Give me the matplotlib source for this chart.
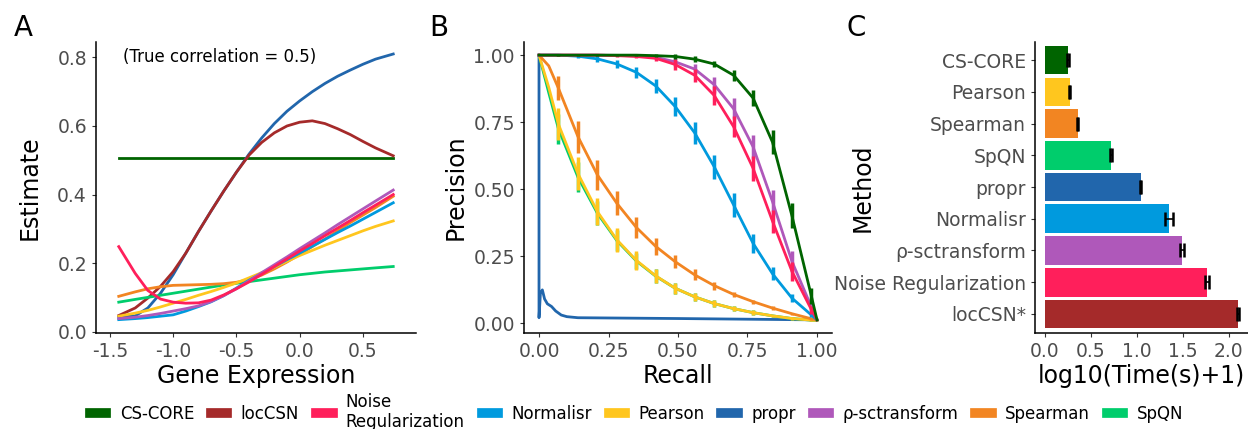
import numpy as np
import matplotlib
matplotlib.use("Agg")
import matplotlib.pyplot as plt
from matplotlib.lines import Line2D

plt.rcParams['font.family'] = ['DejaVu Sans']

methods = ["CS-CORE", "locCSN", "Noise Regularization", "Normalisr", "Pearson",
           "propr", "ρ-sctransform", "Spearman", "SpQN"]
colors = {"CS-CORE": "#006400", "locCSN": "#A52A2A", "Noise Regularization": "#FF1F5B",
          "Normalisr": "#009ADE", "Pearson": "#FFC61E", "propr": "#2166AC",
          "ρ-sctransform": "#AF58BA", "Spearman": "#F28522", "SpQN": "#00CD6C"}

# ---- panel A: estimate vs gene expression
gx = [-1.43, -1.3, -1.2, -1.1, -1.0, -0.9, -0.8, -0.7, -0.6, -0.5, -0.4, -0.3,
      -0.2, -0.1, 0.0, 0.1, 0.2, 0.3, 0.4, 0.5, 0.6, 0.74]
est = {
    "CS-CORE": [0.506] * 22,
    "propr": [0.042, 0.046, 0.069, 0.112, 0.166, 0.229, 0.292, 0.352, 0.41, 0.465, 0.518,
              0.565, 0.607, 0.643, 0.673, 0.70, 0.724, 0.745, 0.763, 0.78, 0.795, 0.81],
    "locCSN": [0.047, 0.069, 0.098, 0.132, 0.175, 0.229, 0.292, 0.352, 0.41, 0.465, 0.515,
               0.552, 0.58, 0.6, 0.611, 0.615, 0.607, 0.592, 0.575, 0.555, 0.536, 0.513],
    "Noise Regularization": [0.248, 0.17, 0.12, 0.095, 0.086, 0.083, 0.084, 0.092, 0.107,
                             0.125, 0.145, 0.167, 0.19, 0.212, 0.235, 0.257, 0.28, 0.302,
                             0.324, 0.347, 0.369, 0.40],
    "ρ-sctransform": [0.038, 0.042, 0.047, 0.053, 0.06, 0.067, 0.075, 0.088, 0.105, 0.125,
                      0.148, 0.172, 0.195, 0.218, 0.242, 0.265, 0.288, 0.312, 0.335, 0.358,
                      0.381, 0.413],
    "Normalisr": [0.035, 0.038, 0.041, 0.045, 0.049, 0.06, 0.073, 0.087, 0.105, 0.127, 0.15,
                  0.17, 0.19, 0.21, 0.229, 0.249, 0.269, 0.289, 0.308, 0.328, 0.348, 0.376],
    "Pearson": [0.045, 0.054, 0.062, 0.072, 0.083, 0.094, 0.106, 0.117, 0.129, 0.142, 0.157,
                0.172, 0.188, 0.205, 0.222, 0.237, 0.252, 0.266, 0.28, 0.294, 0.307, 0.323],
    "Spearman": [0.103, 0.116, 0.125, 0.131, 0.135, 0.136, 0.137, 0.138, 0.14, 0.144, 0.152,
                 0.165, 0.183, 0.203, 0.225, 0.248, 0.27, 0.294, 0.318, 0.34, 0.362, 0.395],
    "SpQN": [0.086, 0.094, 0.1, 0.106, 0.112, 0.118, 0.124, 0.13, 0.136, 0.141, 0.146, 0.151,
             0.156, 0.161, 0.166, 0.17, 0.174, 0.177, 0.18, 0.183, 0.186, 0.19],
}

# ---- panel B: precision-recall
rec = [0.0, 0.035, 0.07, 0.14, 0.21, 0.28, 0.35, 0.42, 0.49, 0.56, 0.63, 0.70, 0.77,
       0.84, 0.91, 0.98, 1.0]
prec = {
    "CS-CORE": [1.0, 1.0, 1.0, 1.0, 1.0, 1.0, 1.0, 0.998, 0.995, 0.985, 0.967, 0.925, 0.84,
                0.675, 0.40, 0.10, 0.012],
    "Noise Regularization": [1.0, 1.0, 1.0, 1.0, 1.0, 0.998, 0.995, 0.988, 0.965, 0.925, 0.85,
                             0.733, 0.578, 0.38, 0.193, 0.05, 0.012],
    "ρ-sctransform": [1.0, 1.0, 1.0, 1.0, 1.0, 0.999, 0.997, 0.992, 0.975, 0.948, 0.89, 0.80,
                      0.658, 0.453, 0.23, 0.06, 0.012],
    "Normalisr": [1.0, 1.0, 1.0, 0.996, 0.986, 0.967, 0.936, 0.885, 0.808, 0.71, 0.584, 0.441,
                  0.298, 0.184, 0.093, 0.03, 0.012],
    "Spearman": [1.0, 0.96, 0.876, 0.696, 0.553, 0.447, 0.357, 0.286, 0.229, 0.18, 0.14, 0.107,
                 0.08, 0.056, 0.035, 0.016, 0.012],
    "Pearson": [1.0, 0.88, 0.742, 0.558, 0.416, 0.311, 0.234, 0.176, 0.13, 0.098, 0.073, 0.054,
                0.039, 0.027, 0.017, 0.011, 0.01],
    "SpQN": [1.0, 0.86, 0.725, 0.545, 0.41, 0.308, 0.232, 0.175, 0.13, 0.098, 0.073, 0.054,
             0.039, 0.027, 0.017, 0.011, 0.01],
}
prec_err = {
    "CS-CORE": [0, 0, 0.003, 0.003, 0.003, 0.003, 0.003, 0.005, 0.008, 0.01, 0.012, 0.02,
                0.03, 0.045, 0.047, 0.03, 0],
    "Noise Regularization": [0, 0, 0.003, 0.003, 0.003, 0.004, 0.005, 0.01, 0.02, 0.025, 0.035,
                             0.04, 0.047, 0.043, 0.035, 0.015, 0],
    "ρ-sctransform": [0, 0, 0.003, 0.003, 0.003, 0.003, 0.004, 0.008, 0.015, 0.02, 0.03, 0.04,
                      0.045, 0.045, 0.04, 0.015, 0],
    "Normalisr": [0, 0, 0.003, 0.005, 0.01, 0.015, 0.02, 0.025, 0.035, 0.04, 0.045, 0.045,
                  0.035, 0.025, 0.015, 0.008, 0],
    "Spearman": [0, 0, 0.045, 0.06, 0.055, 0.045, 0.04, 0.032, 0.025, 0.02, 0.015, 0.01, 0.008,
                 0.006, 0.004, 0.003, 0],
    "Pearson": [0, 0, 0.06, 0.06, 0.05, 0.045, 0.035, 0.025, 0.02, 0.015, 0.012, 0.01, 0.008,
                0.005, 0.004, 0.003, 0],
    "SpQN": [0, 0, 0.055, 0.055, 0.045, 0.04, 0.03, 0.025, 0.02, 0.015, 0.012, 0.01, 0.008,
             0.005, 0.004, 0.003, 0],
}
propr_rec = [0.0, 0.0, 0.005, 0.012, 0.02, 0.03, 0.045, 0.06, 0.08, 0.1, 0.14, 0.5, 1.0]
propr_prec = [1.0, 0.02, 0.11, 0.124, 0.09, 0.072, 0.062, 0.045, 0.03, 0.024, 0.02, 0.017, 0.012]

# ---- panel C: run time
time_methods = ["locCSN*", "Noise Regularization", "ρ-sctransform", "Normalisr", "propr",
                "SpQN", "Spearman", "Pearson", "CS-CORE"]
time_colors = ["#A52A2A", "#FF1F5B", "#AF58BA", "#009ADE", "#2166AC", "#00CD6C",
               "#F28522", "#FFC61E", "#006400"]
time_vals = [2.10, 1.76, 1.49, 1.35, 1.04, 0.72, 0.355, 0.27, 0.25]
time_err = [0.012, 0.02, 0.025, 0.045, 0.008, 0.008, 0.006, 0.006, 0.008]

fig = plt.figure(figsize=(12.48, 4.29), dpi=100)
W, H = 1248, 429


def add_ax(l, r, t, b):
    return fig.add_axes([l / W, 1 - b / H, (r - l) / W, (b - t) / H])


def style(ax):
    for s in ["top", "right"]:
        ax.spines[s].set_visible(False)
    for s in ["left", "bottom"]:
        ax.spines[s].set_linewidth(1.1)
    ax.tick_params(colors="#333333", labelcolor="#4D4D4D", labelsize=13.5, length=3, width=0.8)


# A
axA = add_ax(96, 416, 42, 333)
order_a = ["CS-CORE", "propr", "locCSN", "SpQN", "Spearman", "Pearson", "Normalisr",
           "ρ-sctransform", "Noise Regularization"]
for m in order_a:
    axA.plot(gx, est[m], color=colors[m], lw=2)
axA.set_xlim(-1.61, 0.92)
axA.set_ylim(-0.004, 0.845)
axA.set_xticks([-1.5, -1.0, -0.5, 0.0, 0.5])
axA.set_xticklabels(["-1.5", "-1.0", "-0.5", "0.0", "0.5"])
axA.set_yticks([0.0, 0.2, 0.4, 0.6, 0.8])
style(axA)
axA.set_xlabel("Gene Expression", fontsize=17, labelpad=2)
axA.set_ylabel("Estimate", fontsize=17)
axA.yaxis.set_label_coords((42 - 96) / 320, 0.5)
axA.text(-1.40, 0.8, "(True correlation = 0.5)", fontsize=12, va="center", ha="left")

# B
axB = add_ax(524, 832, 42, 333)
axB.plot(propr_rec, propr_prec, color=colors["propr"], lw=2)
for m in ["SpQN", "Pearson", "Spearman", "Normalisr", "ρ-sctransform",
          "Noise Regularization", "CS-CORE"]:
    axB.plot(rec, prec[m], color=colors[m], lw=2)
    p = np.array(prec[m])
    e = np.array(prec_err[m])
    axB.vlines(rec, p - e, p + e, color=colors[m], lw=2.5)
axB.set_xlim(-0.054, 1.054)
axB.set_ylim(-0.037, 1.049)
ticks = [0.0, 0.25, 0.5, 0.75, 1.0]
axB.set_xticks(ticks)
axB.set_xticklabels(["0.00", "0.25", "0.50", "0.75", "1.00"])
axB.set_yticks(ticks)
axB.set_yticklabels(["0.00", "0.25", "0.50", "0.75", "1.00"])
style(axB)
axB.set_xlabel("Recall", fontsize=17, labelpad=2)
axB.set_ylabel("Precision", fontsize=17)
axB.yaxis.set_label_coords((468 - 524) / 308, 0.5)

# C
axC = add_ax(1035, 1248, 42, 333)
ypos = np.arange(len(time_methods))
axC.barh(ypos, time_vals, height=0.9, color=time_colors)
axC.errorbar(time_vals, ypos, xerr=time_err, fmt="none", ecolor="black",
             elinewidth=1.2, capsize=5, capthick=1.8)
axC.set_yticks(ypos)
axC.set_yticklabels(time_methods)
axC.set_ylim(-0.6, 8.57)
axC.set_xlim(-0.109, 2.21)
axC.set_xticks([0.0, 0.5, 1.0, 1.5, 2.0])
style(axC)
axC.set_xlabel("log10(Time(s)+1)", fontsize=17, labelpad=2)
axC.set_ylabel("Method", fontsize=17)
axC.yaxis.set_label_coords((875 - 1035) / 213, 0.5)

for lab, x in [("A", 23), ("B", 439), ("C", 856)]:
    fig.text(x / W, 1 - 28 / H, lab, fontsize=20, ha="center", va="center")

handles = [Line2D([0], [0], color=colors[m], lw=7) for m in methods]
labels = [m if m != "Noise Regularization" else "Noise\nRegularization" for m in methods]
fig.legend(handles, labels, loc="center", bbox_to_anchor=(0.51, 1 - 412 / H), ncol=9,
           frameon=False, fontsize=12, handlelength=1.0, handletextpad=0.8,
           columnspacing=1.0)

fig.savefig("out.png", dpi=100)
